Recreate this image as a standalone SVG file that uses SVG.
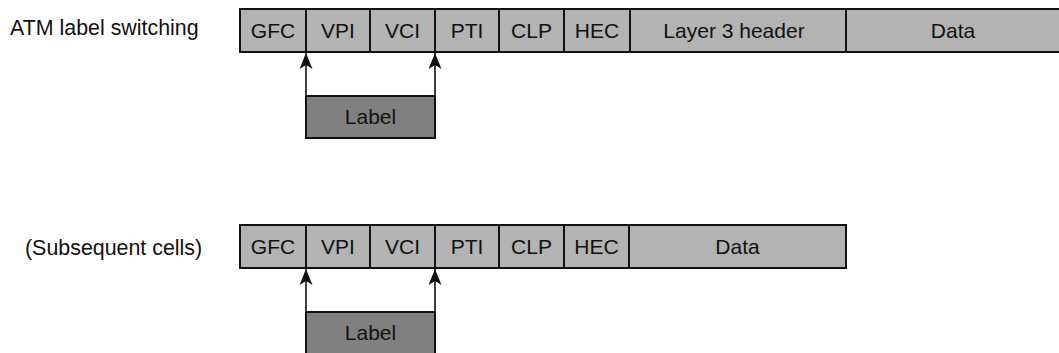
<svg xmlns="http://www.w3.org/2000/svg" width="1059" height="353" viewBox="0 0 1059 353">
<defs>
<style>
.cell{fill:#b3b3b3;stroke:#111;stroke-width:2}
.lbl{fill:#808080;stroke:#111;stroke-width:2}
.t{font-family:"Liberation Sans",Arial,sans-serif;font-size:21px;fill:#111;text-anchor:middle}
.side{font-family:"Liberation Sans",Arial,sans-serif;font-size:21.4px;fill:#111}
.conn{stroke:#111;stroke-width:1.6;fill:none}
</style>
<marker id="ah" markerWidth="13" markerHeight="16" refX="6.5" refY="0" orient="0" markerUnits="userSpaceOnUse" viewBox="0 0 13 16">
<path d="M6.5 0 L13 16 L6.5 12 L0 16 Z" fill="#111"/>
</marker>
</defs>
<rect width="1059" height="353" fill="#fff"/>

<text class="side" x="10" y="34.5">ATM label switching</text>
<text class="side" x="25" y="255">(Subsequent cells)</text>

<g id="row1">
<g id="r1-gfc"><rect class="cell" x="240" y="9" width="66" height="43"/><text class="t" x="273" y="37.5">GFC</text></g>
<g id="r1-vpi"><rect class="cell" x="306" y="9" width="64" height="43"/><text class="t" x="338" y="37.5">VPI</text></g>
<g id="r1-vci"><rect class="cell" x="370" y="9" width="65" height="43"/><text class="t" x="402.5" y="37.5">VCI</text></g>
<g id="r1-pti"><rect class="cell" x="435" y="9" width="64" height="43"/><text class="t" x="467" y="37.5">PTI</text></g>
<g id="r1-clp"><rect class="cell" x="499" y="9" width="65" height="43"/><text class="t" x="531.5" y="37.5">CLP</text></g>
<g id="r1-hec"><rect class="cell" x="564" y="9" width="66" height="43"/><text class="t" x="597" y="37.5">HEC</text></g>
<g id="r1-l3"><rect class="cell" x="630" y="9" width="216" height="43"/><text class="t" x="734" y="37.5">Layer 3 header</text></g>
<g id="r1-data"><rect class="cell" x="846" y="9" width="220" height="43"/><text class="t" x="953" y="37.5">Data</text></g>
</g>
<g id="label1"><rect class="lbl" x="306" y="96" width="129" height="42"/><text class="t" x="370.5" y="124">Label</text></g>

<g id="row2">
<g id="r2-gfc"><rect class="cell" x="240" y="225" width="66" height="43"/><text class="t" x="273" y="253.5">GFC</text></g>
<g id="r2-vpi"><rect class="cell" x="306" y="225" width="64" height="43"/><text class="t" x="338" y="253.5">VPI</text></g>
<g id="r2-vci"><rect class="cell" x="370" y="225" width="65" height="43"/><text class="t" x="402.5" y="253.5">VCI</text></g>
<g id="r2-pti"><rect class="cell" x="435" y="225" width="64" height="43"/><text class="t" x="467" y="253.5">PTI</text></g>
<g id="r2-clp"><rect class="cell" x="499" y="225" width="65" height="43"/><text class="t" x="531.5" y="253.5">CLP</text></g>
<g id="r2-hec"><rect class="cell" x="564" y="225" width="65" height="43"/><text class="t" x="596.5" y="253.5">HEC</text></g>
<g id="r2-data"><rect class="cell" x="629" y="225" width="217" height="43"/><text class="t" x="737.5" y="253.5">Data</text></g>
</g>
<g id="label2"><rect class="lbl" x="306" y="312" width="129" height="50"/><text class="t" x="370.5" y="339.5">Label</text></g>

<g id="connectors">
<line class="conn" x1="306" y1="96" x2="306" y2="53" marker-end="url(#ah)"/>
<line class="conn" x1="435" y1="96" x2="435" y2="53" marker-end="url(#ah)"/>
<line class="conn" x1="306" y1="312" x2="306" y2="269" marker-end="url(#ah)"/>
<line class="conn" x1="435" y1="312" x2="435" y2="269" marker-end="url(#ah)"/>
</g>
</svg>
